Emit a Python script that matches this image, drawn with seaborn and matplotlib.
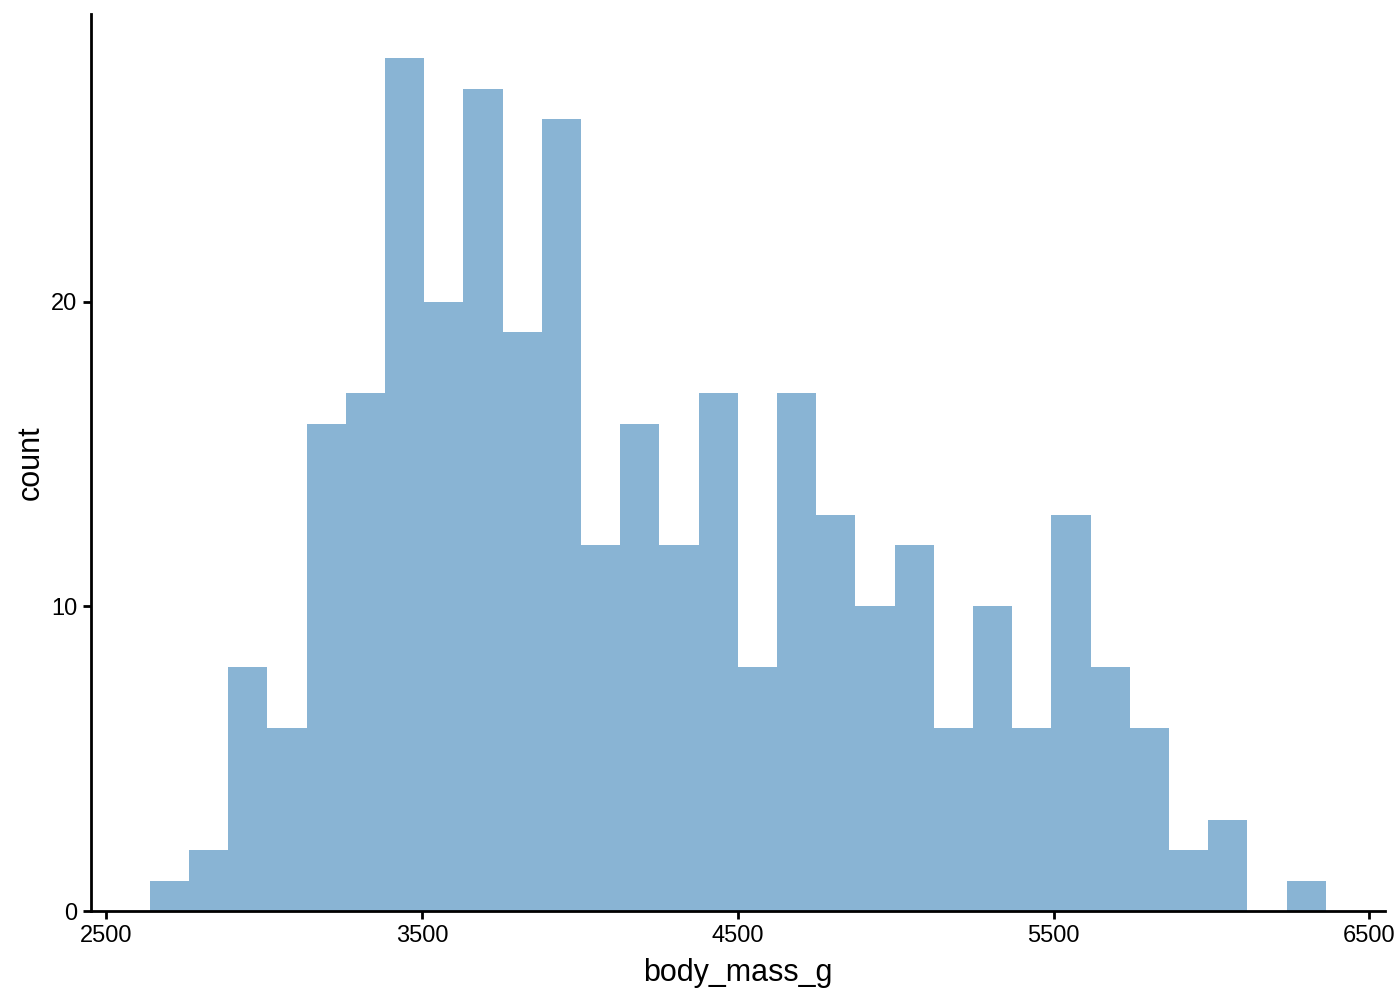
import pandas as pd
import seaborn as sns
import matplotlib.pyplot as plt

# histogram of penguin body mass, 30 bins (counts)
bin_centers = [2700.0, 2824.1, 2948.3, 3072.4, 3196.6, 3320.7, 3444.8, 3569.0,
               3693.1, 3817.2, 3941.4, 4065.5, 4189.7, 4313.8, 4437.9, 4562.1,
               4686.2, 4810.3, 4934.5, 5058.6, 5182.8, 5306.9, 5431.0, 5555.2,
               5679.3, 5803.4, 5927.6, 6051.7, 6175.9, 6300.0]
counts = [1, 2, 8, 6, 16, 17, 28, 20, 27, 19, 26, 12, 16, 12, 17,
          8, 17, 13, 10, 12, 6, 10, 6, 13, 8, 6, 2, 3, 0, 1]
x_ticks = [2500, 3500, 4500, 5500, 6500]
y_ticks = [0, 10, 20]

sns.set_theme(style="ticks")
plt.rcParams['font.family'] = ['Liberation Sans', 'DejaVu Sans']

df = pd.DataFrame({"body_mass_g": bin_centers, "n": counts})
width = (bin_centers[-1] - bin_centers[0]) / (len(bin_centers) - 1)
lo = bin_centers[0] - width / 2
hi = bin_centers[-1] + width / 2

fig = plt.figure(figsize=(14, 10), dpi=100)
ax = fig.add_axes([0.065, 0.089, 0.924, 0.897])

sns.histplot(data=df, x="body_mass_g", weights="n", binwidth=width,
             binrange=(lo, hi), color="#89b4d4", alpha=1,
             edgecolor="none", linewidth=0, ax=ax)

ax.set_xlim(2452, 6548)
ax.set_ylim(0, 29.45)
ax.set_xticks(x_ticks)
ax.set_yticks(y_ticks)
ax.set_xlabel("body_mass_g", fontsize=22, color="black", labelpad=8)
ax.set_ylabel("count", fontsize=22, color="black", labelpad=4)
ax.tick_params(labelsize=17, width=2, length=6, color="black",
               labelcolor="black", pad=4)
for side in ["left", "bottom"]:
    ax.spines[side].set_linewidth(2)
    ax.spines[side].set_color("black")
sns.despine(ax=ax)

fig.savefig("out.png", dpi=100)
